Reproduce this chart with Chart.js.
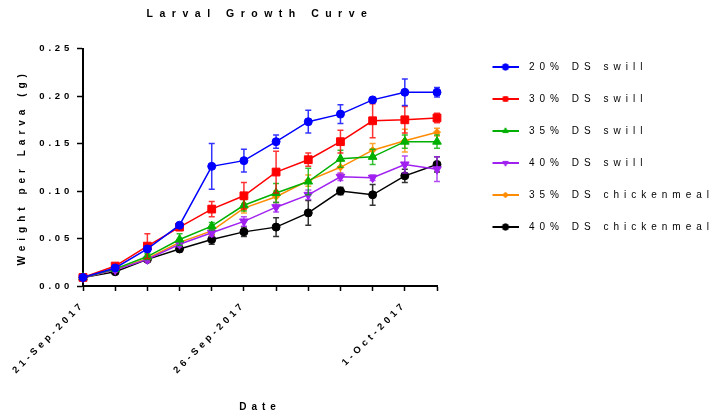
<!DOCTYPE html>
<html>
<head>
<meta charset="utf-8">
<title>Larval Growth Curve</title>
<script src="https://cdn.jsdelivr.net/npm/chart.js@4/dist/chart.umd.min.js"></script>
<style>
  body { margin: 0; background: #fff; }
  canvas { display: block; }
</style>
</head>
<body>
<canvas id="growth-chart" width="715" height="416"></canvas>
<script>
// dates of the weighings (one per day)
const dates = ['21-Sep-2017', '22-Sep-2017', '23-Sep-2017', '24-Sep-2017', '25-Sep-2017', '26-Sep-2017',
  '27-Sep-2017', '28-Sep-2017', '29-Sep-2017', '30-Sep-2017', '1-Oct-2017', '2-Oct-2017'];
const tickLabels = ['21-Sep-2017', '26-Sep-2017', '1-Oct-2017'];
const yTicks = [0, 0.05, 0.10, 0.15, 0.20, 0.25];

// mean weight per larva (g) and its error for each diet
const swill20 = [0.009, 0.019, 0.039, 0.064, 0.126, 0.132, 0.152, 0.173, 0.181, 0.196, 0.204, 0.204];
const swill20Err = [0.001, 0.002, 0.003, 0.002, 0.024, 0.012, 0.007, 0.012, 0.010, 0.002, 0.014, 0.005];
const swill30 = [0.009, 0.021, 0.042, 0.062, 0.081, 0.095, 0.120, 0.133, 0.152, 0.174, 0.175, 0.177];
const swill30Err = [0.001, 0.002, 0.013, 0.002, 0.008, 0.014, 0.022, 0.007, 0.012, 0.018, 0.014, 0.005];
const swill35 = [0.009, 0.018, 0.031, 0.049, 0.063, 0.085, 0.098, 0.110, 0.134, 0.136, 0.152, 0.152];
const swill35Err = [0.001, 0.002, 0.003, 0.006, 0.004, 0.006, 0.010, 0.014, 0.009, 0.008, 0.007, 0.007];
const swill40 = [0.009, 0.017, 0.028, 0.044, 0.056, 0.068, 0.083, 0.096, 0.115, 0.114, 0.128, 0.123];
const swill40Err = [0.001, 0.002, 0.003, 0.003, 0.004, 0.005, 0.005, 0.005, 0.004, 0.003, 0.009, 0.013];
const chicken35 = [0.009, 0.017, 0.029, 0.046, 0.058, 0.082, 0.094, 0.111, 0.125, 0.143, 0.153, 0.162];
const chicken35Err = [0.001, 0.002, 0.003, 0.003, 0.004, 0.005, 0.006, 0.006, 0.007, 0.007, 0.012, 0.004];
const chicken40 = [0.009, 0.015, 0.028, 0.039, 0.049, 0.057, 0.062, 0.077, 0.100, 0.096, 0.116, 0.128];
const chicken40Err = [0.001, 0.002, 0.002, 0.003, 0.005, 0.005, 0.010, 0.013, 0.004, 0.011, 0.007, 0.008];

const canvas = document.getElementById('growth-chart');
const ctx = canvas.getContext('2d');

// Prism style wide letter spacing, picked from the font string chart.js sets
function spacingFor(font) {
  const m = /(bold )?([\d.]+)px/.exec(font);
  if (!m) return '0px';
  const bold = !!m[1];
  const size = parseFloat(m[2]);
  if (bold && size === 10.5) return '6.5px';  // title
  if (bold && size === 10) return '5px';      // axis titles
  if (bold && size === 9.5) return '3.8px';   // tick labels
  if (!bold && size === 10) return '5px';     // legend
  return '0px';
}
const fontProp = Object.getOwnPropertyDescriptor(CanvasRenderingContext2D.prototype, 'font');
Object.defineProperty(ctx, 'font', {
  get() { return fontProp.get.call(this); },
  set(value) {
    fontProp.set.call(this, value);
    if ('letterSpacing' in this) this.letterSpacing = spacingFor(String(value));
  },
});

Chart.defaults.font.family = "'Liberation Sans', Arial, sans-serif";
Chart.defaults.color = '#000';

function makeSeries(label, data, errors, color, pointStyle, radius, rotation) {
  return {
    label: label,
    data: data,
    errors: errors,
    borderColor: color,
    backgroundColor: color,
    borderWidth: 1.5,
    pointStyle: pointStyle,
    pointRadius: radius,
    pointRotation: rotation || 0,
    pointBorderWidth: 1,
    clip: false,
  };
}

const datasets = [
  makeSeries('20% DS swill', swill20, swill20Err, '#0000ff', 'circle', 4),
  makeSeries('30% DS swill', swill30, swill30Err, '#ff0000', 'rect', 5.5),
  makeSeries('35% DS swill', swill35, swill35Err, '#00b000', 'triangle', 5),
  makeSeries('40% DS swill', swill40, swill40Err, '#a020f0', 'triangle', 5, 180),
  makeSeries('35% DS chickenmeal', chicken35, chicken35Err, '#ff8c00', 'rectRot', 3.5),
  makeSeries('40% DS chickenmeal', chicken40, chicken40Err, '#000000', 'circle', 4),
];

// little line + marker picture for the legend
function legendIcon(ds) {
  const icon = document.createElement('canvas');
  icon.width = 54;
  icon.height = 12;
  const c = icon.getContext('2d');
  c.strokeStyle = ds.borderColor;
  c.fillStyle = ds.backgroundColor;
  c.lineWidth = 2;
  c.beginPath();
  c.moveTo(28, 6);
  c.lineTo(54, 6);
  c.stroke();
  c.lineWidth = 1;
  Chart.helpers.drawPoint(c, {
    pointStyle: ds.pointStyle,
    radius: Math.min(ds.pointRadius, 4) * 0.8,
    rotation: ds.pointRotation,
    borderWidth: 1,
  }, 41, 6);
  return icon;
}

const errorBars = {
  id: 'errorBars',
  beforeDatasetDraw(chart, args) {
    const ds = chart.data.datasets[args.index];
    const yScale = chart.scales.y;
    const c = chart.ctx;
    c.save();
    c.strokeStyle = ds.borderColor;
    c.globalAlpha = 0.8;
    c.lineWidth = 1.5;
    args.meta.data.forEach((pt, i) => {
      const top = yScale.getPixelForValue(ds.data[i] + ds.errors[i]);
      const bottom = yScale.getPixelForValue(ds.data[i] - ds.errors[i]);
      c.beginPath();
      c.moveTo(pt.x, top);
      c.lineTo(pt.x, bottom);
      c.moveTo(pt.x - 3, top);
      c.lineTo(pt.x + 3, top);
      c.moveTo(pt.x - 3, bottom);
      c.lineTo(pt.x + 3, bottom);
      c.stroke();
    });
    c.restore();
  },
};

const config = {
  type: 'line',
  data: {
    labels: dates,
    datasets: datasets,
  },
  options: {
    responsive: false,
    animation: false,
    layout: { padding: 0 },
    plugins: {
      title: {
        display: true,
        text: 'Larval Growth Curve',
        fullSize: false,
        font: { size: 10.5, weight: 'bold' },
        padding: { top: 8, bottom: 28 },
      },
      legend: {
        position: 'right',
        align: 'start',
        fullSize: true,
        maxWidth: 278,
        title: { display: true, text: '', padding: { top: 28, bottom: 0 }, font: { size: 10 } },
        labels: {
          usePointStyle: true,
          pointStyleWidth: 65,
          padding: 22,
          font: { size: 10 },
          generateLabels(chart) {
            const items = Chart.defaults.plugins.legend.labels.generateLabels(chart);
            items.forEach(item => {
              item.pointStyle = legendIcon(chart.data.datasets[item.datasetIndex]);
              item.rotation = 0;
            });
            return items;
          },
        },
      },
      tooltip: { enabled: false },
    },
    scales: {
      x: {
        type: 'category',
        offset: false,
        afterFit(scale) { scale.height = 130; },
        grid: { display: true, drawOnChartArea: false, tickLength: 5, tickWidth: 1.5, tickColor: '#000', offset: false },
        border: { color: '#000', width: 2 },
        ticks: {
          autoSkip: false,
          minRotation: 45,
          maxRotation: 45,
          padding: 8,
          font: { size: 9.5, weight: 'bold' },
          callback: function (value) {
            const label = this.getLabelForValue(value);
            return tickLabels.includes(label) ? label : '';
          },
        },
        title: {
          display: true,
          text: 'Date',
          font: { size: 10, weight: 'bold' },
          padding: { top: 0, bottom: 3 },
        },
      },
      y: {
        min: yTicks[0],
        max: yTicks[yTicks.length - 1],
        afterFit(scale) { scale.width = 83; },
        afterBuildTicks(scale) { scale.ticks = yTicks.map(v => ({ value: v })); },
        grid: { drawOnChartArea: false, tickLength: 6, tickWidth: 1.5, tickColor: '#000' },
        border: { color: '#000', width: 2 },
        ticks: {
          padding: 4,
          font: { size: 9.5, weight: 'bold' },
          callback: v => Number(v).toFixed(2),
        },
        title: {
          display: true,
          text: 'Weight per Larva (g)',
          font: { size: 10, weight: 'bold' },
          padding: { top: 16, bottom: 0 },
        },
      },
    },
  },
  plugins: [errorBars],
};

const growthChart = new Chart(ctx, config);
</script>
</body>
</html>
